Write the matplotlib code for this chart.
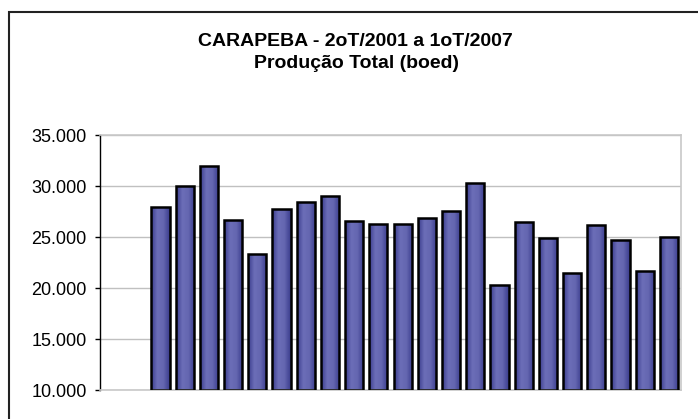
import matplotlib
matplotlib.use("Agg")
import matplotlib.pyplot as plt
import numpy as np
from matplotlib.lines import Line2D
from matplotlib.colors import LinearSegmentedColormap
from matplotlib.ticker import FuncFormatter

categories = ["2T01", "3T01", "4T01", "1T02", "2T02", "3T02", "4T02", "1T03", "2T03", "3T03",
              "4T03", "1T04", "2T04", "3T04", "4T04", "1T05", "2T05", "3T05", "4T05", "1T06",
              "2T06", "3T06", "4T06", "1T07"]
values = [None, None, 28000, 30000, 31950, 26700, 23350, 27800, 28450, 29000,
          26600, 26300, 26250, 26900, 27600, 30350, 20300, 26450, 24900, 21500,
          26200, 24750, 21650, 25000]
yticks = [10000, 15000, 20000, 25000, 30000, 35000]
title_lines = ["CARAPEBA - 2oT/2001 a 1oT/2007", "Produção Total (boed)"]

plt.rcParams['font.family'] = ['Liberation Sans', 'DejaVu Sans']

W, H = 698, 419
fig = plt.figure(figsize=(W / 100, H / 100), dpi=100)
fig.patch.set_facecolor('white')

# outer chart frame (only left and top edges fall inside the picture)
fig.lines.append(Line2D([8.5 / W, 8.5 / W, 1.02], [-0.02, 1 - 12.5 / H, 1 - 12.5 / H],
                        transform=fig.transFigure, color='#222222', linewidth=1.5,
                        solid_joinstyle='miter', solid_capstyle='butt'))

ax = fig.add_axes([100 / W, 1 - 390 / H, (681 - 100) / W, (390 - 135.3) / H])
ymin, ymax = 10000, 35000

for y in yticks:
    ax.axhline(y, color='#C0C0C0', linewidth=1, zorder=0)

cmap = LinearSegmentedColormap.from_list('bar', ['#393B8C', '#6C6EB8', '#6466B0', '#393B8C'])
grad = np.linspace(0, 1, 64).reshape(1, -1)
x = np.arange(len(categories))
bw = 0.75
for xi, v in zip(x, values):
    if v is None:
        continue
    bars = ax.bar(xi, v - ymin, bottom=ymin, width=bw, facecolor='none',
                  edgecolor='black', linewidth=1.8, zorder=3)
    im = ax.imshow(grad, cmap=cmap, aspect='auto', zorder=2,
                   extent=(xi - bw / 2, xi + bw / 2, ymin, v), interpolation='bicubic')
    im.set_clip_path(bars[0])

ax.set_xlim(-0.5, len(categories) - 0.5)
ax.set_ylim(ymin, ymax)

ax.set_yticks(yticks)
ax.yaxis.set_major_formatter(FuncFormatter(lambda v, p: f"{int(v):,}".replace(",", ".")))
ax.tick_params(axis='y', direction='out', length=3.6, width=1, color='black', labelsize=13, pad=6)
ax.set_xticks([])
for s in ['top', 'right', 'bottom']:
    ax.spines[s].set_color('#C8C8C8')
    ax.spines[s].set_linewidth(1.2)
ax.spines['left'].set_color('black')
ax.spines['left'].set_linewidth(1)

fig.text(355 / W, 1 - 45.7 / H, title_lines[0], ha='center', va='baseline', fontsize=14,
         fontweight='bold')
fig.text(356 / W, 1 - 68.3 / H, title_lines[1], ha='center', va='baseline', fontsize=14,
         fontweight='bold')

fig.savefig('out.png', dpi=100)
